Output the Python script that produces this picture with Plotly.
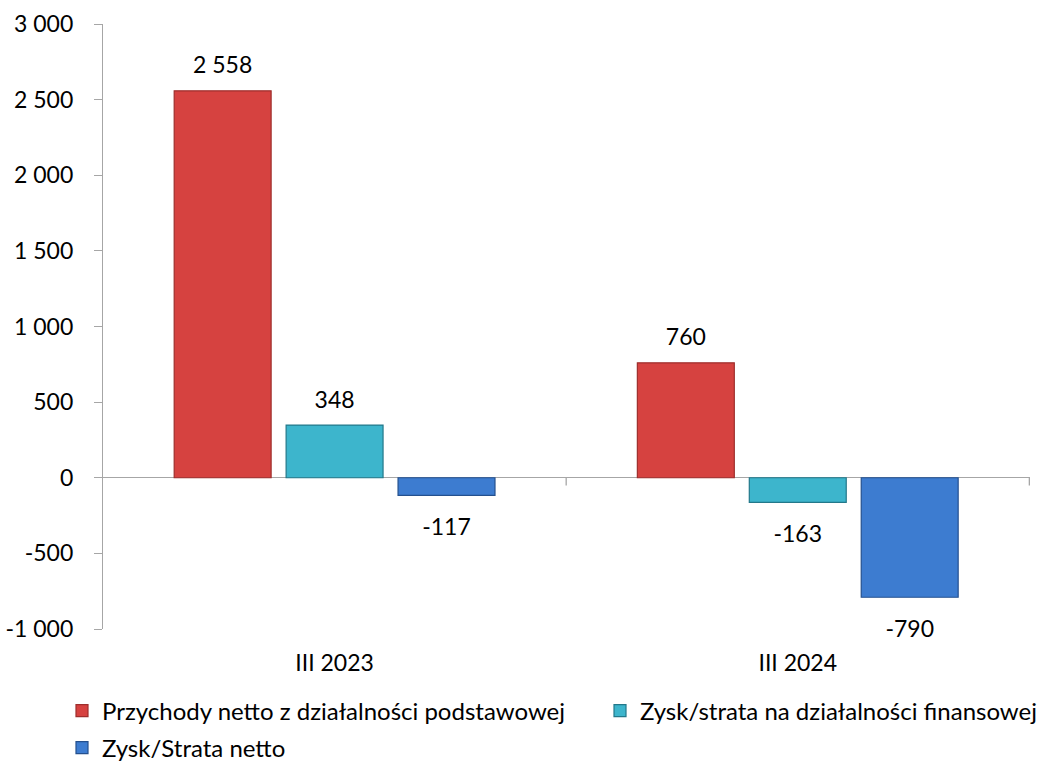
import plotly.graph_objects as go

categories = ["III 2023", "III 2024"]
series_names = [
    "Przychody netto z działalności podstawowej",
    "Zysk/strata na działalności finansowej",
    "Zysk/Strata netto",
]
przychody = [2558, 760]
zysk_fin = [348, -163]
zysk_netto = [-117, -790]
y_ticks = [-1000, -500, 0, 500, 1000, 1500, 2000, 2500, 3000]

colors = ["#D64240", "#3DB5CC", "#3D7CD0"]
edges = ["#9E2E2C", "#23788A", "#24508E"]
values = [przychody, zysk_fin, zysk_netto]
legend_ids = ["legend", "legend2", "legend3"]


def fmt(v):
    s = f"{abs(v):,}".replace(",", " ")
    return ("-" if v < 0 else "") + s


FONT = "Lato"
fig = go.Figure()
for i, (name, vals, c, e) in enumerate(zip(series_names, values, colors, edges)):
    fig.add_trace(go.Bar(
        x=categories, y=vals, name=name, offsetgroup=str(i), legend=legend_ids[i],
        marker=dict(color=c, line=dict(color=e, width=1.2)),
    ))
for i, vals in enumerate(values):
    fig.add_trace(go.Scatter(
        x=categories, y=vals, offsetgroup=str(i), mode="markers+text",
        marker=dict(size=[17 if v >= 0 else 34 for v in vals], opacity=0),
        showlegend=False, hoverinfo="skip",
        text=[fmt(v) for v in vals],
        textposition=["top center" if v >= 0 else "bottom center" for v in vals],
        textfont=dict(family=FONT, size=23, color="#000000"),
        cliponaxis=False,
    ))

# category boundary tick marks on the zero line
for xb in [0.5, 1.5]:
    fig.add_shape(type="line", xref="x", yref="y", x0=xb, x1=xb, y0=0, y1=-52,
                  line=dict(color="#A6A6A6", width=1.3))

leg_common = dict(orientation="h", xref="container", yref="container", xanchor="left",
                  yanchor="middle", font=dict(family=FONT, size=24), itemwidth=30,
                  bgcolor="rgba(0,0,0,0)")

fig.update_layout(
    width=1051, height=771,
    paper_bgcolor="white", plot_bgcolor="white",
    font=dict(family=FONT, size=22, color="#000000"),
    margin=dict(l=103, r=21, t=24, b=142, autoexpand=False),
    barmode="group", bargap=0.275, bargroupgap=0.134,
    scattermode="group", scattergap=0.275,
    showlegend=True,
    legend=dict(leg_common, x=62 / 1051, y=(771 - 711) / 771),
    legend2=dict(leg_common, x=600 / 1051, y=(771 - 711) / 771),
    legend3=dict(leg_common, x=62 / 1051, y=(771 - 748) / 771),
    xaxis=dict(showline=False, ticks="", showgrid=False, zeroline=False, automargin=False,
               tickfont=dict(family=FONT, size=23), ticklabelstandoff=18),
    yaxis=dict(range=[-1000, 3000], tickvals=y_ticks, ticktext=[fmt(v) for v in y_ticks],
               automargin=False,
               showgrid=False, showline=True, linecolor="#A6A6A6", linewidth=1.3,
               ticks="outside", ticklen=8, tickcolor="#A6A6A6", tickwidth=1.3,
               zeroline=True, zerolinecolor="#A6A6A6", zerolinewidth=1.3,
               tickfont=dict(family=FONT, size=23), ticklabelstandoff=16),
    yaxis2=dict(overlaying="y", side="left", range=[-1000, 3000], tickvals=y_ticks,
                showticklabels=False, ticks="inside", ticklen=7, tickcolor="#A6A6A6",
                tickwidth=1.3, showgrid=False, showline=False, zeroline=False,
                automargin=False),
)
fig.write_html("out.html", config={"displayModeBar": False},
               post_script="document.body.style.margin='0';")
